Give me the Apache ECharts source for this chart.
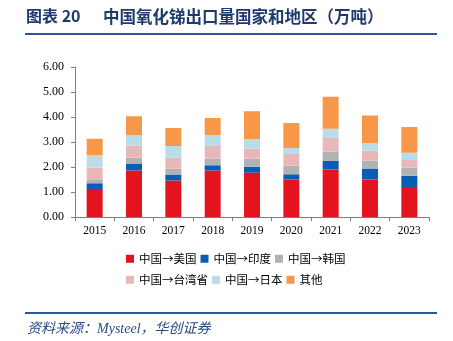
<!DOCTYPE html>
<html><head><meta charset="utf-8">
<script src="https://cdn.jsdelivr.net/npm/echarts@6/dist/echarts.min.js"></script>
<style>html,body{margin:0;padding:0;background:#fff}#c{width:453px;height:341px}</style>
</head><body><div id="c"></div>
<script>
const years = ['2015','2016','2017','2018','2019','2020','2021','2022','2023'];
const usa    = [1.12,1.86,1.46,1.86,1.77,1.50,1.90,1.50,1.20];
const india  = [0.23,0.26,0.24,0.21,0.24,0.21,0.34,0.44,0.45];
const korea  = [0.13,0.25,0.24,0.26,0.32,0.34,0.37,0.31,0.32];
const taiwan = [0.50,0.48,0.43,0.51,0.40,0.47,0.55,0.40,0.31];
const japan  = [0.50,0.43,0.47,0.44,0.39,0.24,0.37,0.31,0.29];
const other  = [0.65,0.75,0.72,0.68,1.11,1.00,1.28,1.10,1.03];
const yTicks = ['0.00','1.00','2.00','3.00','4.00','5.00','6.00'];
const seriesNames = ['中国→美国','中国→印度','中国→韩国','中国→台湾省','中国→日本','其他'];
const seriesData = [usa, india, korea, taiwan, japan, other];
const colors = ['#e3141e','#0b5cb5','#b2b2b2','#e8b8b9','#b8dde9','#f79747'];

const chart = echarts.init(document.getElementById('c'));
const serif = '"Liberation Serif","Times New Roman",serif';
const cjk = '"Noto Sans CJK SC","Noto Sans",sans-serif';
const legendCommon = {
  orient:'horizontal', itemWidth:8, itemHeight:8, itemGap:4, icon:'rect',
  textStyle:{fontFamily:cjk, fontSize:11.5, color:'#000', width:61}
};
chart.setOption({
  animation:false,
  color: colors,
  grid:{left:75, right:24, top:67, bottom:124},
  legend:[
    Object.assign({}, legendCommon, {data:seriesNames.slice(0,3), left:121, top:248}),
    Object.assign({}, legendCommon, {data:seriesNames.slice(3), left:121, top:269})
  ],
  xAxis:{type:'category', data:years,
    axisLine:{lineStyle:{color:'#7f7f7f', width:1}},
    axisTick:{show:true, length:4, alignWithLabel:false, lineStyle:{color:'#7f7f7f'}},
    axisLabel:{fontFamily:serif, fontSize:11.5, color:'#000', margin:8}},
  yAxis:{type:'value', min:0, max:6, interval:1,
    axisLine:{show:true, lineStyle:{color:'#7f7f7f', width:1}},
    axisTick:{show:true, length:4, lineStyle:{color:'#7f7f7f'}},
    splitLine:{show:false},
    axisLabel:{fontFamily:serif, fontSize:12, color:'#000', margin:11,
      formatter:(v)=>yTicks[Math.round(v)]}},
  series: seriesNames.map((n,i)=>({name:n, type:'bar', stack:'t', barWidth:16,
    data:seriesData[i], itemStyle:{color:colors[i]}})),
  graphic:[
    {type:'text', left:26, top:8, style:{text:'图表 20', fontFamily:cjk, fontWeight:'bold', fontSize:16, fill:'#1f3b6e'}},
    {type:'text', left:103, top:8, style:{text:'中国氧化锑出口量国家和地区（万吨）', fontFamily:cjk, fontWeight:'bold', fontSize:16.5, fill:'#1f3b6e'}},
    {type:'rect', shape:{x:25, y:33, width:412, height:2}, style:{fill:'#2f5597'}},
    {type:'rect', shape:{x:25, y:312, width:412, height:2}, style:{fill:'#2f5597'}},
    {type:'text', left:27, top:322, style:{text:'资料来源：Mysteel，华创证券', fontFamily:'"Liberation Serif","Noto Sans CJK SC",serif', fontStyle:'italic', fontSize:14, fill:'#2a4a86'}}
  ]
});
</script></body></html>
